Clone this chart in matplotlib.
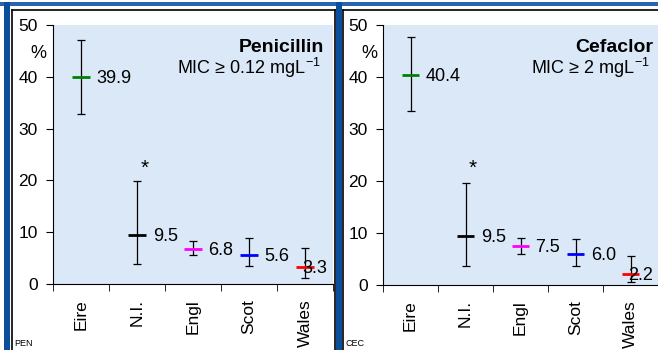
import matplotlib
matplotlib.use("Agg")
import matplotlib.pyplot as plt
from matplotlib.patches import Rectangle
import numpy as np

plt.rcParams['font.family'] = ['Liberation Sans', 'DejaVu Sans']
plt.rcParams['mathtext.fontset'] = 'custom'
plt.rcParams['mathtext.rm'] = 'Liberation Sans'

# data
regions = ["Eire", "N.I.", "Engl", "Scot", "Wales"]
pen_vals = [39.9, 9.5, 6.8, 5.6, 3.3]
pen_lo = [32.9, 3.8, 5.6, 3.4, 1.2]
pen_hi = [47.2, 19.9, 8.3, 8.8, 7.0]
cec_vals = [40.4, 9.5, 7.5, 6.0, 2.2]
cec_lo = [33.4, 3.7, 6.0, 3.7, 0.6]
cec_hi = [47.6, 19.6, 9.0, 8.9, 5.5]
marker_colors = ["#008000", "black", "#ff00ff", "#0000ff", "#ff0000"]
label_dx = [0.28, 0.28, 0.27, 0.28, -0.05]

W, H = 658, 350
fig = plt.figure(figsize=(W / 100, H / 100), dpi=100)

# slide frame, drawn in pixel coords
bg = fig.add_axes([0, 0, 1, 1], zorder=0)
bg.set_xlim(0, W); bg.set_ylim(H, 0); bg.axis("off")
blue = "#0b4f9c"
bg.add_patch(Rectangle((0, 1.5), W, 4, color="#2a64b0", lw=0))
for x0, x1 in [(3.5, 9.5), (336, 341.5)]:
    bg.add_patch(Rectangle((x0, 1.5), x1 - x0, H, color=blue, lw=0))
for xs, ys in [([11.5, 334.5], [10, 10]), ([11.5, 11.5], [10, H]), ([334.5, 334.5], [10, H]),
               ([342.5, W], [10, 10]), ([342.5, 342.5], [10, H])]:
    bg.plot(xs, ys, color="black", lw=1.2)


def px_axes(left, right, top, bottom):
    return fig.add_axes([left / W, 1 - bottom / H, (right - left) / W, (bottom - top) / H], zorder=1)


def panel(ax, vals, lo, hi, xmax, drug, mic, title_x, tag, tag_x, pct_x):
    vals = np.array(vals); lo = np.array(lo); hi = np.array(hi)
    x = np.arange(len(regions))
    ax.set_facecolor("#dae8f8")
    ax.errorbar(x, vals, yerr=[vals - lo, hi - vals], fmt="none", ecolor="black",
                elinewidth=0.9, capsize=3, capthick=0.9, zorder=2)
    ax.scatter(x, vals, marker="_", s=12.5 ** 2, c=marker_colors, linewidths=2.0, zorder=3)
    for xi, v, dx in zip(x, vals, label_dx):
        ax.text(xi + dx, v - 0.3, f"{v:.1f}", fontsize=13, va="center", ha="left", zorder=4)
    ax.text(1.13, 22.4, "*", fontsize=15, ha="center", va="center")
    ax.set_xlim(-0.5, xmax); ax.set_ylim(0, 50)
    for s in ["top", "right"]:
        ax.spines[s].set_visible(False)
    ax.set_yticks(range(0, 51, 10))
    ax.tick_params(axis="y", direction="out", length=5, labelsize=12.5, pad=6)
    ax.set_xticks(x)
    ax.set_xticklabels(regions, rotation=90, va="top", fontsize=12.5)
    ax.tick_params(axis="x", length=0, pad=11)
    ax.set_xticks(np.arange(-0.5, 5, 1), minor=True)
    ax.tick_params(axis="x", which="minor", direction="out", length=5)
    fig.text(title_x / W, 1 - 47 / H, drug, fontsize=14, fontweight="bold", ha="right", va="center")
    fig.text((title_x - 3) / W, 1 - 68 / H, mic, fontsize=13, ha="right", va="center")
    fig.text(pct_x / W, 1 - 53 / H, "%", fontsize=13, ha="center", va="center")
    fig.text(tag_x / W, 1 - 344 / H, tag, fontsize=6.5, ha="left", va="center")


ax1 = px_axes(53, 333, 25, 284)
ax2 = px_axes(383, W, 25, 285)
panel(ax1, pen_vals, pen_lo, pen_hi, 4.47, "Penicillin", r"MIC ≥ 0.12 mgL$^{-1}$", 324,
      "PEN", 14, 38)
panel(ax2, cec_vals, cec_lo, cec_hi, 4.36, "Cefaclor", r"MIC ≥ 2 mgL$^{-1}$", 653,
      "CEC", 345, 369)

fig.savefig("out.png", dpi=100)
